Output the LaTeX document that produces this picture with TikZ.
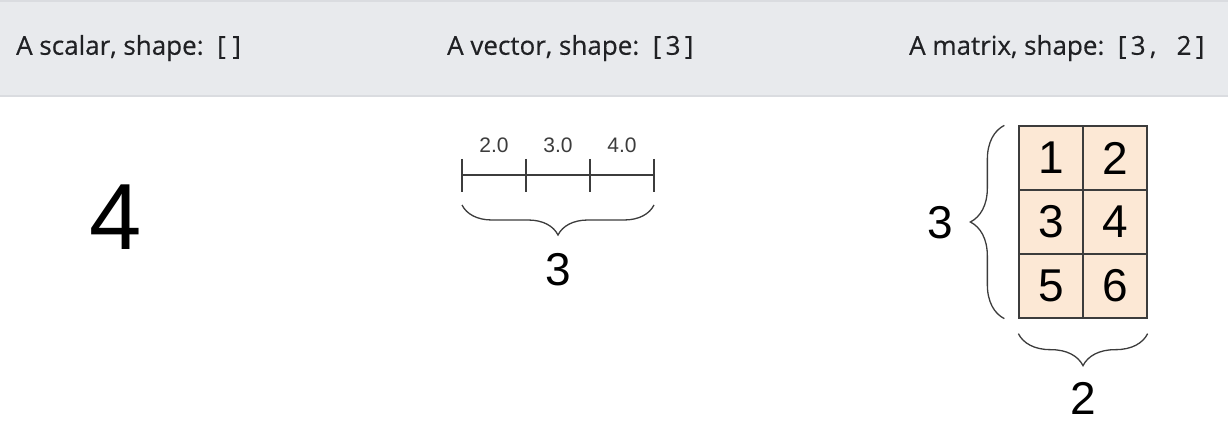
\documentclass[tikz,border=0pt]{standalone}
\usepackage{fontspec}
\setmainfont{Liberation Sans}
\newfontfamily\headfont[FakeBold=0.4]{Open Sans}
\usetikzlibrary{positioning, decorations.pathreplacing, calc}
\definecolor{headgray}{HTML}{E8EAED}
\definecolor{headline}{HTML}{DADCE0}
\definecolor{headink}{HTML}{202124}
\definecolor{cellfill}{HTML}{FCE8D5}
\definecolor{inkgray}{HTML}{3C3C3C}

\begin{document}
\begin{tikzpicture}[
  x=1pt, y=-1pt,
  headtext/.style={anchor=west, inner sep=0pt, text=headink,
    font=\headfont\fontsize{26}{26}\selectfont},
  bignum/.style={inner sep=0pt, font=\fontsize{46}{46}\selectfont},
  cell/.style={draw=inkgray, fill=cellfill, line width=1.3pt,
    minimum width=64pt, minimum height=64pt, inner sep=0pt,
    font=\fontsize{46}{46}\selectfont},
  curly/.style={decorate, decoration={brace, amplitude=#1},
    draw=inkgray, line width=1.3pt},
  curly/.default=30pt
  ]
  \useasboundingbox (0,0) rectangle (1228,422);
  % header band
  \fill[headgray] (0,0) rectangle (1228,96);
  \draw[headline, line width=2pt] (0,1) -- (1228,1);
  \draw[headline, line width=2pt] (0,96) -- (1228,96);
  \node[headtext] (hscalar) at (16,48) {A scalar, shape:\ \ [\ ]};
  \node[headtext] (hvector) at (447,48) {A vector, shape:\ \ [\,3\,]};
  \node[headtext] (hmatrix) at (909,48) {A matrix, shape:\ \ [\,3\,,\ \ \ 2\,]};

  % scalar
  \node[inner sep=0pt, font=\fontsize{94}{94}\selectfont] (scalar) at (116,217) {4};

  % vector
  \foreach \i/\x in {0/462,1/526,2/590,3/654}
    \coordinate (v\i) at (\x,175);
  \draw[inkgray, line width=1.3pt] (v0) -- (v3);
  \foreach \i in {0,...,3}
    \draw[inkgray, line width=1.3pt] ($(v\i)+(0,-16)$) -- ($(v\i)+(0,17)$);
  \foreach \i/\j/\val in {0/1/2.0,1/2/3.0,2/3/4.0}
    \node[text=inkgray, font=\fontsize{21}{21}\selectfont,
      above=19pt of {$(v\i)!.5!(v\j)$}] (lab\i) {\val};
  \draw[curly] ($(v3)+(0,30)$) -- ($(v0)+(0,30)$);
  \node[bignum] (vlen) at (558,270) {3};

  % matrix
  \foreach \r/\y in {1/158,2/222,3/286}
    \foreach \c/\x in {1/1051,2/1115} {
      \pgfmathtruncatemacro{\val}{2*(\r-1)+\c}
      \node[cell] (c\r\c) at (\x,\y) {\val};
    }
  \draw[curly=34pt] ([xshift=-14pt]c31.south west) -- ([xshift=-14pt]c11.north west);
  \draw[curly=32pt] ([yshift=-15pt]c32.south east) -- ([yshift=-15pt]c31.south west);
  \node[bignum] (mrows) at (940,223) {3};
  \node[bignum] (mcols) at (1083,398) {2};
\end{tikzpicture}
\end{document}
